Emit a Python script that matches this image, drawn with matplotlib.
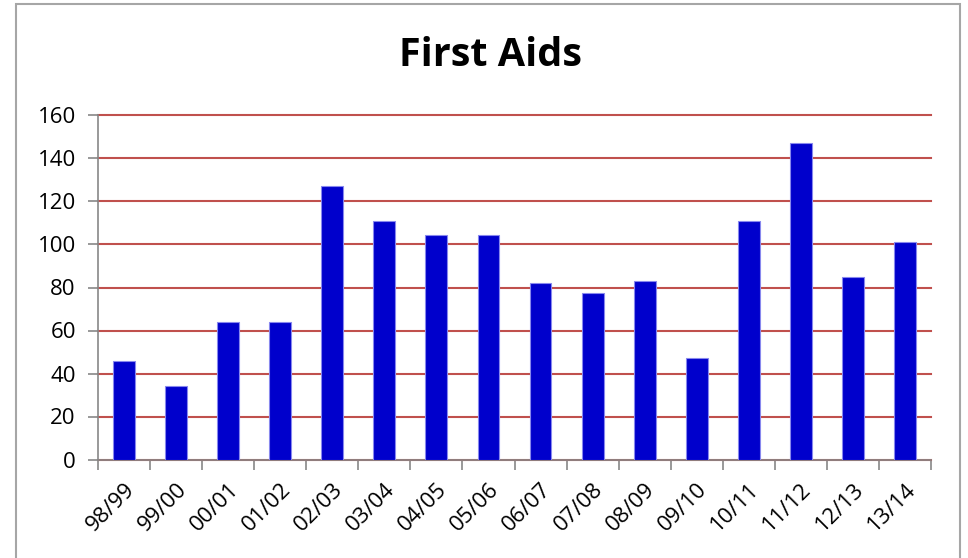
import matplotlib
matplotlib.use("Agg")
import matplotlib.pyplot as plt
from matplotlib.patches import Rectangle
import numpy as np

categories = ["98/99", "99/00", "00/01", "01/02", "02/03", "03/04", "04/05", "05/06",
              "06/07", "07/08", "08/09", "09/10", "10/11", "11/12", "12/13", "13/14"]
values = [46, 34, 64, 64, 127, 111, 104.5, 104.5, 82, 77.5, 83, 47, 111, 147, 85, 101]
y_ticks = [0, 20, 40, 60, 80, 100, 120, 140, 160]

plt.rcParams['font.family'] = ['Open Sans', 'DejaVu Sans']

fig = plt.figure(figsize=(9.68, 5.58), dpi=100)
ax = fig.add_axes([98/968, 1 - 459.5/558, (931-98)/968, (459.5-115.5)/558])

x = np.arange(len(categories))
ax.bar(x, values, width=0.42, color='#0000CC', edgecolor='#8888EE', linewidth=0.8, zorder=3)

ax.set_xlim(-0.5, len(categories) - 0.5)
ax.set_ylim(0, 160)
ax.set_yticks(y_ticks)
ax.set_yticklabels([str(v) for v in y_ticks], fontsize=16)
ax.yaxis.grid(True, color='#C0504D', linewidth=1.5, zorder=0, clip_on=False)
for gl in ax.get_ygridlines():
    gl.set_clip_on(False)
ax.set_axisbelow(True)

ax.set_xticks(x)
ax.set_xticklabels(categories, rotation=45, ha='right', rotation_mode='anchor', fontsize=16)
ax.set_xticks(np.arange(-0.5, len(categories)), minor=True)
ax.tick_params(axis='x', which='major', length=0, pad=14)
ax.tick_params(axis='x', which='minor', length=7, color='#878787', width=1.2)
ax.tick_params(axis='y', length=7, color='#878787', width=1.2, pad=9)

for s in ['top', 'right']:
    ax.spines[s].set_visible(False)
for s in ['left', 'bottom']:
    ax.spines[s].set_color('#878787')
    ax.spines[s].set_linewidth(1.2)

fig.text(490/968, 1 - 55/558, "First Aids", ha='center', va='center',
         fontsize=28.5, fontweight='bold')

border = Rectangle((16/968, -0.05), (960-16)/968, 1 - 4/558 + 0.05, transform=fig.transFigure,
                   fill=False, edgecolor='#A6A6A6', linewidth=1.5, clip_on=False)
fig.patches.append(border)

fig.savefig("out.png", dpi=100)
